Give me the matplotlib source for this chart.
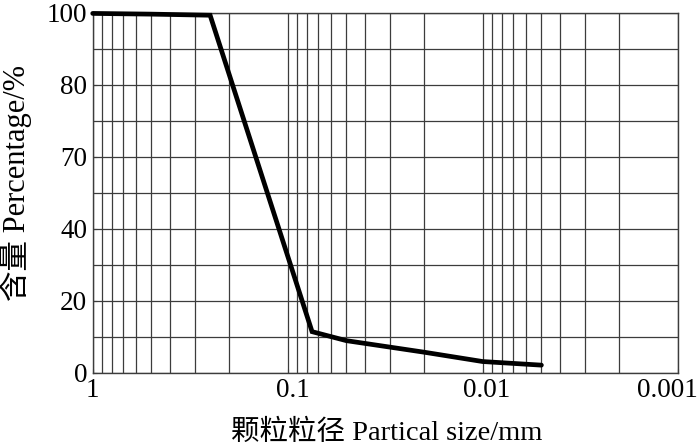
import matplotlib
matplotlib.use("Agg")
import matplotlib.pyplot as plt
from matplotlib.ticker import FixedLocator, NullFormatter
from matplotlib.transforms import ScaledTranslation

# Data
particle_size_mm = [1.0, 0.5, 0.25, 0.075, 0.05, 0.02, 0.01, 0.005]
percentage = [99.8, 99.6, 99.3, 11.4, 8.9, 5.7, 3.1, 2.1]

x_major = [1, 0.1, 0.01, 0.001]
x_major_labels = ["1", "0.1", "0.01", "0.001"]
y_major = [0, 20, 40, 60, 80, 100]
y_major_labels = ["0", "20", "40", "70", "80", "100"]
y_minor = [10, 30, 50, 70, 90]

x_label = "颗粒粒径 Partical size/mm"
y_label = "含量 Percentage/%"

fam = ["Liberation Serif", "Noto Sans CJK SC"]
plt.rcParams["font.family"] = fam

fig = plt.figure(figsize=(7.0, 4.46), dpi=100)
ax = fig.add_axes([92.7 / 700, 1 - 372.7 / 446, 585 / 700, 360 / 446])

ax.plot(particle_size_mm, percentage, color="black", lw=3.4,
        solid_capstyle="round", solid_joinstyle="miter", zorder=5, clip_on=False)

ax.set_xscale("log")
ax.set_xlim(1, 0.001)
ax.set_ylim(0, 100)

x_minor = []
for dec in [1, 0.1, 0.01]:
    for k in range(2, 10):
        x_minor.append(dec * k / 10)

ax.xaxis.set_major_locator(FixedLocator(x_major))
ax.set_xticklabels(x_major_labels)
ax.xaxis.set_minor_locator(FixedLocator(x_minor))
ax.xaxis.set_minor_formatter(NullFormatter())
ax.yaxis.set_major_locator(FixedLocator(y_major))
ax.set_yticklabels(y_major_labels)
ax.yaxis.set_minor_locator(FixedLocator(y_minor))

gc = "#3c3c3c"
ax.grid(True, which="both", color=gc, lw=0.9)
ax.set_axisbelow(True)
for s in ax.spines.values():
    s.set_color(gc)
    s.set_linewidth(1.0)

ax.tick_params(axis="both", which="both", direction="in", length=3, color=gc,
               labelsize=19.5, labelcolor="black")
ax.tick_params(axis="x", which="major", pad=4)
ax.tick_params(axis="y", which="major", pad=4)

# shift the x tick labels slightly, as in the reference
shifts = [0, 5, 4, -10]
for lab, dx in zip(ax.get_xticklabels(), shifts):
    lab.set_transform(lab.get_transform() + ScaledTranslation(dx / 100, 0, fig.dpi_scale_trans))

xl = ax.set_xlabel(x_label, fontsize=20.5, va="center")
yl = ax.set_ylabel(y_label, fontsize=22, va="center")
ax.xaxis.set_label_coords(0.502, -(433 - 372.7) / 360)
ax.yaxis.set_label_coords((16 - 92.7) / 585, 1 - (183 - 12.7) / 360)

fig.savefig("out.png", dpi=100)
